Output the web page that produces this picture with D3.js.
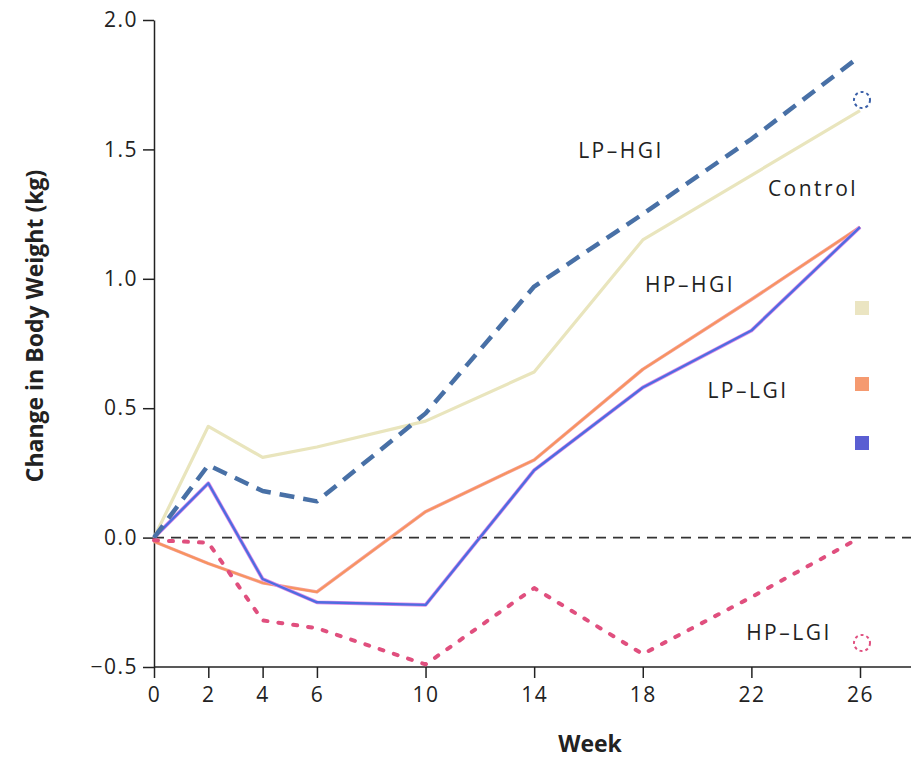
<!DOCTYPE html>
<html>
<head>
<meta charset="utf-8">
<script src="https://cdn.jsdelivr.net/npm/d3@7"></script>
<style>
  body { margin: 0; background: white; }
  svg { display: block; }
  text { font-family: "Open Sans", Lato, sans-serif; fill: #222; }
</style>
</head>
<body>
<div id="chart"></div>
<script>
var
  weeks = [0, 2, 4, 6, 10, 14, 18, 22, 26],
  yTicks = [-0.5, 0.0, 0.5, 1.0, 1.5, 2.0],

  control = [0.0, 0.43, 0.31, 0.35, 0.45, 0.64, 1.15, 1.40, 1.65],
  lpHgi   = [0.0, 0.28, 0.18, 0.14, 0.48, 0.97, 1.25, 1.54, 1.86],
  hpHgi   = [-0.015, -0.10, -0.175, -0.21, 0.10, 0.30, 0.65, 0.92, 1.20],
  lpLgi   = [0.0, 0.21, -0.16, -0.25, -0.26, 0.26, 0.58, 0.80, 1.20],
  hpLgi   = [-0.01, -0.02, -0.32, -0.35, -0.49, -0.195, -0.45, -0.23, 0.0],

  labels = ["LP\u2013HGI", "Control", "HP\u2013HGI", "LP\u2013LGI", "HP\u2013LGI"],

  WIDTH = 911,
  HEIGHT = 762,

  // plot area, in pixels
  LEFT = 154,
  RIGHT = 860,
  TOP = 20,
  BOTTOM = 667;

var svg = d3.select("#chart").append("svg")
  .attr("width", WIDTH)
  .attr("height", HEIGHT);

var x = d3.scaleLinear().domain([0, 26]).range([LEFT, RIGHT]);
var y = d3.scaleLinear().domain([-0.5, 2.0]).range([BOTTOM, TOP]);

// y axis
var yAxis = svg.append("g")
  .attr("transform", "translate(" + LEFT + ",0)")
  .call(d3.axisLeft(y).tickValues(yTicks).tickSize(11).tickSizeOuter(0)
    .tickFormat(d3.format(".1f")).tickPadding(5));
yAxis.selectAll("text")
  .style("font-size", "21px").style("letter-spacing", "1.5px")
  .text(function(d){ return d3.format(".1f")(d).replace("-", "\u2013"); });

// x axis, with a long base line
var xAxis = svg.append("g")
  .attr("transform", "translate(0," + BOTTOM + ")")
  .call(d3.axisBottom(x).tickValues(weeks).tickSize(11).tickSizeOuter(0).tickPadding(9));
xAxis.select(".domain").remove();
xAxis.selectAll("text").style("font-size", "21px").style("letter-spacing", "1.5px");
svg.append("line")
  .attr("x1", LEFT).attr("x2", WIDTH)
  .attr("y1", BOTTOM).attr("y2", BOTTOM)
  .attr("stroke", "#222").attr("stroke-width", 1.5);
svg.selectAll(".tick line").attr("stroke", "#222").attr("stroke-width", 1.5);
yAxis.select(".domain").attr("stroke", "#222").attr("stroke-width", 1.5);

// zero line
svg.append("line")
  .attr("x1", LEFT).attr("x2", WIDTH)
  .attr("y1", y(0)).attr("y2", y(0))
  .attr("stroke", "#333").attr("stroke-width", 1.6)
  .attr("stroke-dasharray", "10,7");

var line = d3.line()
  .x(function(d, i){ return x(weeks[i]); })
  .y(function(d){ return y(d); });

function drawSeries(values, color, width, dash, cap){
  svg.append("path")
    .attr("d", line(values))
    .attr("fill", "none")
    .attr("stroke", color)
    .attr("stroke-width", width)
    .attr("stroke-dasharray", dash || null)
    .attr("stroke-linecap", cap || "butt")
    .attr("stroke-linejoin", "round");
}

drawSeries(control, "#e9e5bd", 3.2);
drawSeries(hpHgi, "#f5a0a0", 3.4);
drawSeries(hpHgi, "#f7945e", 2);
drawSeries(lpLgi, "#e088e8", 3.8);
drawSeries(lpLgi, "#4d6de0", 2.4);
drawSeries(lpHgi, "#4870a6", 4.5, "15,9");
drawSeries(hpLgi, "#e04f7e", 4, "4,11", "round");

// labels
var labelPos = [[621, 158], [813, 196], [690, 292], [748, 398], [789, 640]];
labels.forEach(function(t, i){
  svg.append("text")
    .attr("x", labelPos[i][0]).attr("y", labelPos[i][1])
    .attr("text-anchor", "middle")
    .style("font-size", "21px").style("letter-spacing", "2.5px")
    .text(t);
});

// legend glyphs at the right
[["#ebe5c2", 308], ["#f59a70", 384], ["#5a5ed2", 443]].forEach(function(m){
  svg.append("rect")
    .attr("x", 855).attr("y", m[1] - 7)
    .attr("width", 14).attr("height", 14)
    .attr("fill", m[0]);
});
[["#3a5fa8", 100], ["#e05080", 643]].forEach(function(m){
  svg.append("circle")
    .attr("cx", 862).attr("cy", m[1]).attr("r", 8)
    .attr("fill", "none").attr("stroke", m[0])
    .attr("stroke-width", 2).attr("stroke-dasharray", "3,3");
});

// axis titles
svg.append("text")
  .attr("x", 590).attr("y", 752)
  .attr("text-anchor", "middle")
  .style("font-size", "23px").style("font-weight", "bold")
  .text("Week");
svg.append("text")
  .attr("transform", "translate(43,326) rotate(-90)")
  .attr("text-anchor", "middle")
  .style("font-size", "23px").style("font-weight", "bold")
  .text("Change in Body Weight (kg)");
</script>
</body>
</html>
